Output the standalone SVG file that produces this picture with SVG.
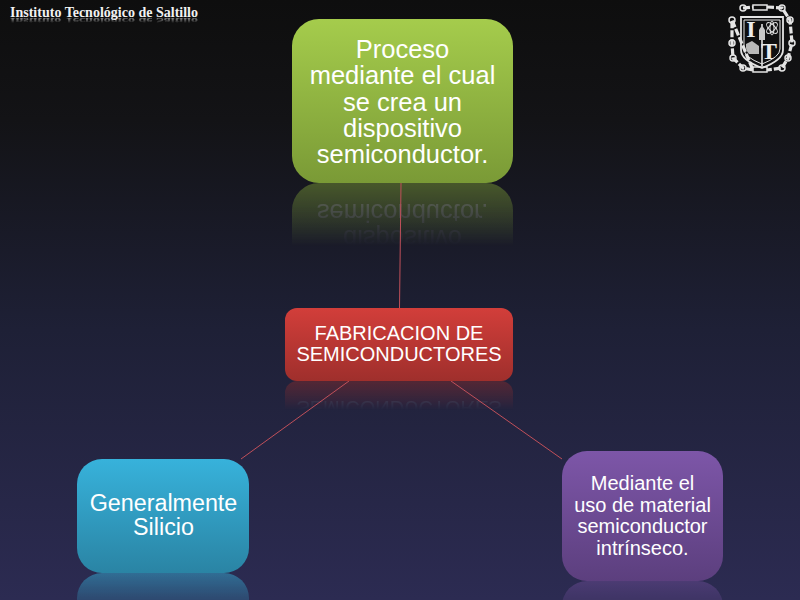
<svg xmlns="http://www.w3.org/2000/svg" width="800" height="600" viewBox="0 0 800 600">
<style>
.t{font-family:"Liberation Sans",Arial,sans-serif;fill:#fff;text-anchor:middle}
.h{font-family:"Liberation Serif",serif;font-weight:700;font-size:14.5px;fill:#f2f2f2}
.c{stroke:#c0505a;stroke-width:1;fill:none}
.logo{fill:none;stroke:#e4e4e4}
</style>
<defs>
<linearGradient id="bg" x1="0" y1="0" x2="0" y2="1"><stop offset="0" stop-color="#0e0e0e"/><stop offset=".2" stop-color="#131316"/><stop offset=".55" stop-color="#1e2036"/><stop offset="1" stop-color="#2c2b52"/></linearGradient>
<linearGradient id="gG" x1="0" y1="0" x2="0" y2="1"><stop offset="0" stop-color="#a5cc4c"/><stop offset="1" stop-color="#7a9a36"/></linearGradient>
<linearGradient id="gR" x1="0" y1="0" x2="0" y2="1"><stop offset="0" stop-color="#d23e3a"/><stop offset="1" stop-color="#9f2f2c"/></linearGradient>
<linearGradient id="gB" x1="0" y1="0" x2="0" y2="1"><stop offset="0" stop-color="#37b2db"/><stop offset="1" stop-color="#2a84a4"/></linearGradient>
<linearGradient id="gP" x1="0" y1="0" x2="0" y2="1"><stop offset="0" stop-color="#7d56a8"/><stop offset="1" stop-color="#5c3f7e"/></linearGradient>
<linearGradient id="fG" gradientUnits="userSpaceOnUse" x1="0" y1="183" x2="0" y2="246"><stop offset="0" stop-color="#fff" stop-opacity=".5"/><stop offset="1" stop-color="#fff" stop-opacity="0"/></linearGradient>
<linearGradient id="fR" gradientUnits="userSpaceOnUse" x1="0" y1="381" x2="0" y2="410"><stop offset="0" stop-color="#fff" stop-opacity=".4"/><stop offset="1" stop-color="#fff" stop-opacity="0"/></linearGradient>
<linearGradient id="fB" gradientUnits="userSpaceOnUse" x1="0" y1="573" x2="0" y2="625"><stop offset="0" stop-color="#fff" stop-opacity=".5"/><stop offset="1" stop-color="#fff" stop-opacity="0"/></linearGradient>
<linearGradient id="fP" gradientUnits="userSpaceOnUse" x1="0" y1="581" x2="0" y2="630"><stop offset="0" stop-color="#fff" stop-opacity=".4"/><stop offset="1" stop-color="#fff" stop-opacity="0"/></linearGradient>
<linearGradient id="fH" gradientUnits="userSpaceOnUse" x1="0" y1="18" x2="0" y2="23"><stop offset="0" stop-color="#fff" stop-opacity=".55"/><stop offset="1" stop-color="#fff" stop-opacity="0"/></linearGradient>
<mask id="mG" maskUnits="userSpaceOnUse" x="0" y="0" width="800" height="600"><rect width="800" height="600" fill="url(#fG)"/></mask>
<mask id="mR" maskUnits="userSpaceOnUse" x="0" y="0" width="800" height="600"><rect width="800" height="600" fill="url(#fR)"/></mask>
<mask id="mB" maskUnits="userSpaceOnUse" x="0" y="0" width="800" height="600"><rect width="800" height="600" fill="url(#fB)"/></mask>
<mask id="mP" maskUnits="userSpaceOnUse" x="0" y="0" width="800" height="600"><rect width="800" height="600" fill="url(#fP)"/></mask>
<mask id="mH" maskUnits="userSpaceOnUse" x="0" y="0" width="800" height="600"><rect width="800" height="600" fill="url(#fH)"/></mask>
</defs>
<rect width="800" height="600" fill="url(#bg)"/>

<g id="header">
<text class="h" x="10" y="16.500" textLength="188" lengthAdjust="spacingAndGlyphs">Instituto Tecnológico de Saltillo</text>
<g mask="url(#mH)"><text class="h" transform="translate(0,27.900) scale(1,-.6)" x="10" y="16.500" textLength="188" lengthAdjust="spacingAndGlyphs">Instituto Tecnológico de Saltillo</text></g>
</g>

<g id="logo">
<path class="logo" stroke-width="3.200" d="M743 8L753 7M767 7L782 8L790 20L792 43L788 58L782 68L767 70M753 70L743 68L733 58L732 43L732 20Z" stroke-dasharray="7 2"/>
<g class="logo" stroke-width="1.500"><rect x="753" y="5" width="14" height="5"/><rect x="753" y="67" width="14" height="5"/><circle cx="743" cy="8" r="3"/><circle cx="782" cy="8" r="3"/><circle cx="790" cy="20" r="3"/><circle cx="792" cy="43" r="3"/><circle cx="788" cy="58" r="3"/><circle cx="782" cy="68" r="3"/><circle cx="743" cy="68" r="3"/><circle cx="733" cy="58" r="3"/><circle cx="732" cy="43" r="3"/><circle cx="732" cy="20" r="3"/></g>
<path class="logo" stroke-width="1.800" d="M741 17H783V50Q783 60 762 68Q741 60 741 50Z"/>
<path class="logo" stroke-width="1" d="M744 20H780V49Q780 57 762 64Q744 57 744 49Z"/>
<g fill="#ececec" font-family="'Liberation Serif',serif" font-weight="700" text-anchor="middle"><text x="751" y="37" font-size="24">I</text><text x="769" y="59" font-size="24">T</text></g>
<path class="logo" stroke-width="1.600" d="M762 24V66"/>
<path d="M759 40V30Q762 23 765 30V40Z" fill="#c8c8c8"/>
<g class="logo" stroke-width="1"><ellipse cx="772" cy="28" rx="7" ry="3" transform="rotate(45 772 28)"/><ellipse cx="772" cy="28" rx="7" ry="3" transform="rotate(-45 772 28)"/><ellipse cx="772" cy="28" rx="2" ry="7"/></g>
<path d="M746 44L752 41L759 46V54H749Q746 51 746 48Z" fill="#b8b8b8"/>
</g>

<g id="reflections">
<g mask="url(#mG)"><g transform="translate(0,366) scale(1,-1)"><rect x="292" y="19" width="221" height="164" rx="27" fill="url(#gG)"/><g class="t" font-size="25.500" style="fill-opacity:.55"><text x="402.500" y="162.500">semiconductor.</text><text x="402.500" y="136.500">dispositivo</text></g></g></g>
<g mask="url(#mR)"><g transform="translate(0,762) scale(1,-1)"><rect x="285" y="308" width="228" height="73" rx="12" fill="url(#gR)"/><text class="t" font-size="20" x="399" y="361" style="fill-opacity:.6">SEMICONDUCTORES</text></g></g>
<g mask="url(#mB)"><rect x="77" y="573" width="172" height="114" rx="25" fill="url(#gB)"/></g>
<g mask="url(#mP)"><rect x="562" y="581" width="161" height="130" rx="25" fill="url(#gP)"/></g>
</g>

<g id="connectors">
<line class="c" x1="401" y1="183" x2="399.500" y2="308"/>
<line class="c" x1="349" y1="381" x2="241" y2="459"/>
<line class="c" x1="451" y1="381" x2="562" y2="459"/>
</g>

<g id="node-proceso">
<rect x="292" y="19" width="221" height="164" rx="27" fill="url(#gG)"/>
<g class="t" font-size="25.500"><text x="402.500" y="57.500">Proceso</text><text x="402.500" y="84">mediante el cual</text><text x="402.500" y="110.500">se crea un</text><text x="402.500" y="136.500">dispositivo</text><text x="402.500" y="162.500">semiconductor.</text></g>
</g>
<g id="node-fabricacion">
<rect x="285" y="308" width="228" height="73" rx="12" fill="url(#gR)"/>
<g class="t" font-size="20"><text x="399" y="339.500">FABRICACION DE</text><text x="399" y="361">SEMICONDUCTORES</text></g>
</g>
<g id="node-silicio">
<rect x="77" y="459" width="172" height="114" rx="25" fill="url(#gB)"/>
<g class="t" font-size="23.300"><text x="163.500" y="510.500">Generalmente</text><text x="163.500" y="535">Silicio</text></g>
</g>
<g id="node-material">
<rect x="562" y="451" width="161" height="130" rx="25" fill="url(#gP)"/>
<g class="t" font-size="20"><text x="642.500" y="490">Mediante el</text><text x="642.500" y="511.500">uso de material</text><text x="642.500" y="533">semiconductor</text><text x="642.500" y="554.500">intrínseco.</text></g>
</g>
</svg>
